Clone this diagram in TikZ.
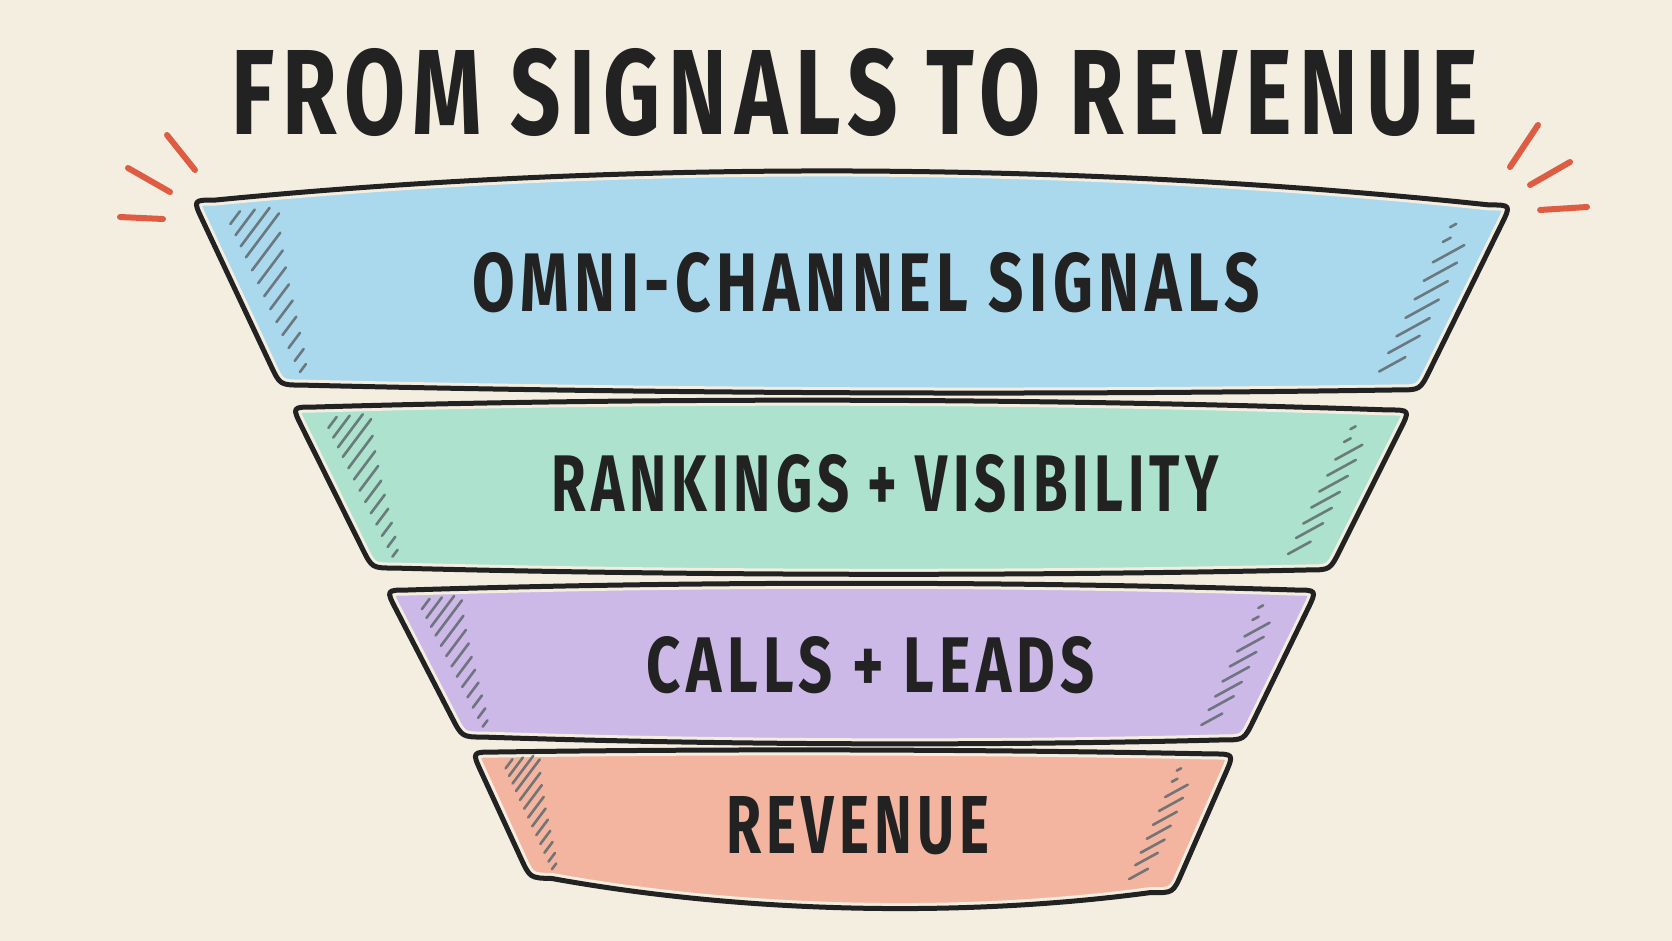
\documentclass[tikz,border=0pt]{standalone}
\usepackage{fontspec}
\usetikzlibrary{calc}
\newfontfamily\hand{Fira Sans}[LetterSpace=9]
\definecolor{paper}{RGB}{244,238,225}
\definecolor{ink}{RGB}{34,34,34}
\definecolor{cblue}{RGB}{170,216,236}
\definecolor{cgreen}{RGB}{172,226,206}
\definecolor{cpurple}{RGB}{204,185,231}
\definecolor{csalmon}{RGB}{244,181,160}
\definecolor{cred}{RGB}{222,92,66}
\definecolor{hatchc}{RGB}{95,105,110}
\newcommand{\bandpath}[6]{%
 ($(#1)!22pt!(#4)$) -- ($(#4)!22pt!(#1)$) .. controls (#4) .. ($(#4)!22pt!(#3)$)
 .. controls ($(#4)!0.33!(#3)+(0,#6)$) and ($(#4)!0.67!(#3)+(0,#6)$) .. ($(#3)!22pt!(#4)$)
 .. controls (#3) .. ($(#3)!22pt!(#2)$) -- ($(#2)!22pt!(#3)$) .. controls (#2) .. ($(#2)!22pt!(#1)$)
 .. controls ($(#2)!0.33!(#1)+(0,#5)$) and ($(#2)!0.67!(#1)+(0,#5)$) .. ($(#1)!22pt!(#2)$)
 .. controls (#1) .. ($(#1)!22pt!(#4)$) -- cycle}
\newcommand{\drawband}[8]{%
 \begin{scope}
  \clip \bandpath{#1}{#2}{#3}{#4}{#5}{#6};
  \fill[#7] (0,0) rectangle (1672,941);
  \draw[paper, line width=11pt] \bandpath{#1}{#2}{#3}{#4}{#5}{#6};
 \end{scope}
 \foreach \t/\l in {0.13/16,0.19/32,0.25/48,0.31/55,0.38/47,0.45/41,0.52/36,0.59/31,0.66/27,0.73/23,0.80/19,0.87/15,0.93/10}
  {\draw[hatch] ($(#1)!\t!(#4)+(26,0)$) -- ++({0.6*\l*#8},{-0.8*\l*#8});}
 \foreach \t/\l in {0.12/7,0.2/9,0.31/36,0.41/38,0.51/38,0.61/38,0.71/38,0.8/36,0.9/30}
  {\draw[hatch] ($(#2)!\t!(#3)+(-50,0)$) -- ++({0.876*\l*#8},{-0.48*\l*#8});}
 \draw[outline] \bandpath{#1}{#2}{#3}{#4}{#5}{#6};
}
\tikzset{
 outline/.style={draw=ink, line width=5pt, line join=round},
 hatch/.style={draw=hatchc, line width=2.6pt, line cap=round, opacity=0.85},
 burst/.style={draw=cred, line width=6pt, line cap=round},
 label/.style={inner sep=0pt, text=ink}
}
\begin{document}
\begin{tikzpicture}[x=1pt,y=-1pt]
\useasboundingbox (0,0) rectangle (1672,941);
\fill[paper] (0,0) rectangle (1672,941);
% band corners
\coordinate (b1tl) at (193,200); \coordinate (b1tr) at (1511,205);
\coordinate (b1br) at (1420,390); \coordinate (b1bl) at (280,385);
\coordinate (b2tl) at (292,407); \coordinate (b2tr) at (1410,410);
\coordinate (b2br) at (1330,570); \coordinate (b2bl) at (372,568);
\coordinate (b3tl) at (386,590); \coordinate (b3tr) at (1317,590);
\coordinate (b3br) at (1244,740); \coordinate (b3bl) at (462,737);
\coordinate (b4tl) at (472,752); \coordinate (b4tr) at (1234,754);
\coordinate (b4br) at (1173,893); \coordinate (b4bl) at (530,878);
\drawband{b1tl}{b1tr}{b1br}{b1bl}{-42}{7}{cblue}{1}
\drawband{b2tl}{b2tr}{b2br}{b2bl}{-11}{7}{cgreen}{0.86}
\drawband{b3tl}{b3tr}{b3br}{b3bl}{-9}{7}{cpurple}{0.8}
\drawband{b4tl}{b4tr}{b4br}{b4bl}{-4}{30}{csalmon}{0.72}
% bursts
\coordinate (l1a) at (167,135); \coordinate (l1b) at (195,170);
\coordinate (l2a) at (128,168); \coordinate (l2b) at (170,192);
\coordinate (l3a) at (120,217); \coordinate (l3b) at (163,219);
\coordinate (r1a) at (1538,125); \coordinate (r1b) at (1510,167);
\coordinate (r2a) at (1570,162); \coordinate (r2b) at (1530,185);
\coordinate (r3a) at (1540,210); \coordinate (r3b) at (1587,207);
\draw[burst] (l1a) -- (l1b); \draw[burst] (l2a) -- (l2b); \draw[burst] (l3a) -- (l3b);
\draw[burst] (r1a) -- (r1b); \draw[burst] (r2a) -- (r2b); \draw[burst] (r3a) -- (r3b);
% texts
\node[label] (title) at (855,92) {\resizebox{1246pt}{86pt}{\hand\bfseries FROM SIGNALS TO REVENUE}};
\node[label] (t1) at (866,283) {\resizebox{787pt}{59pt}{\hand\bfseries OMNI-CHANNEL SIGNALS}};
\node[label] (t2) at (885,484) {\resizebox{667pt}{57pt}{\hand\bfseries RANKINGS + VISIBILITY}};
\node[label] (t3) at (871,665) {\resizebox{448pt}{56pt}{\hand\bfseries CALLS + LEADS}};
\node[label] (t4) at (858,826) {\resizebox{263pt}{57pt}{\hand\bfseries REVENUE}};
\end{tikzpicture}
\end{document}
